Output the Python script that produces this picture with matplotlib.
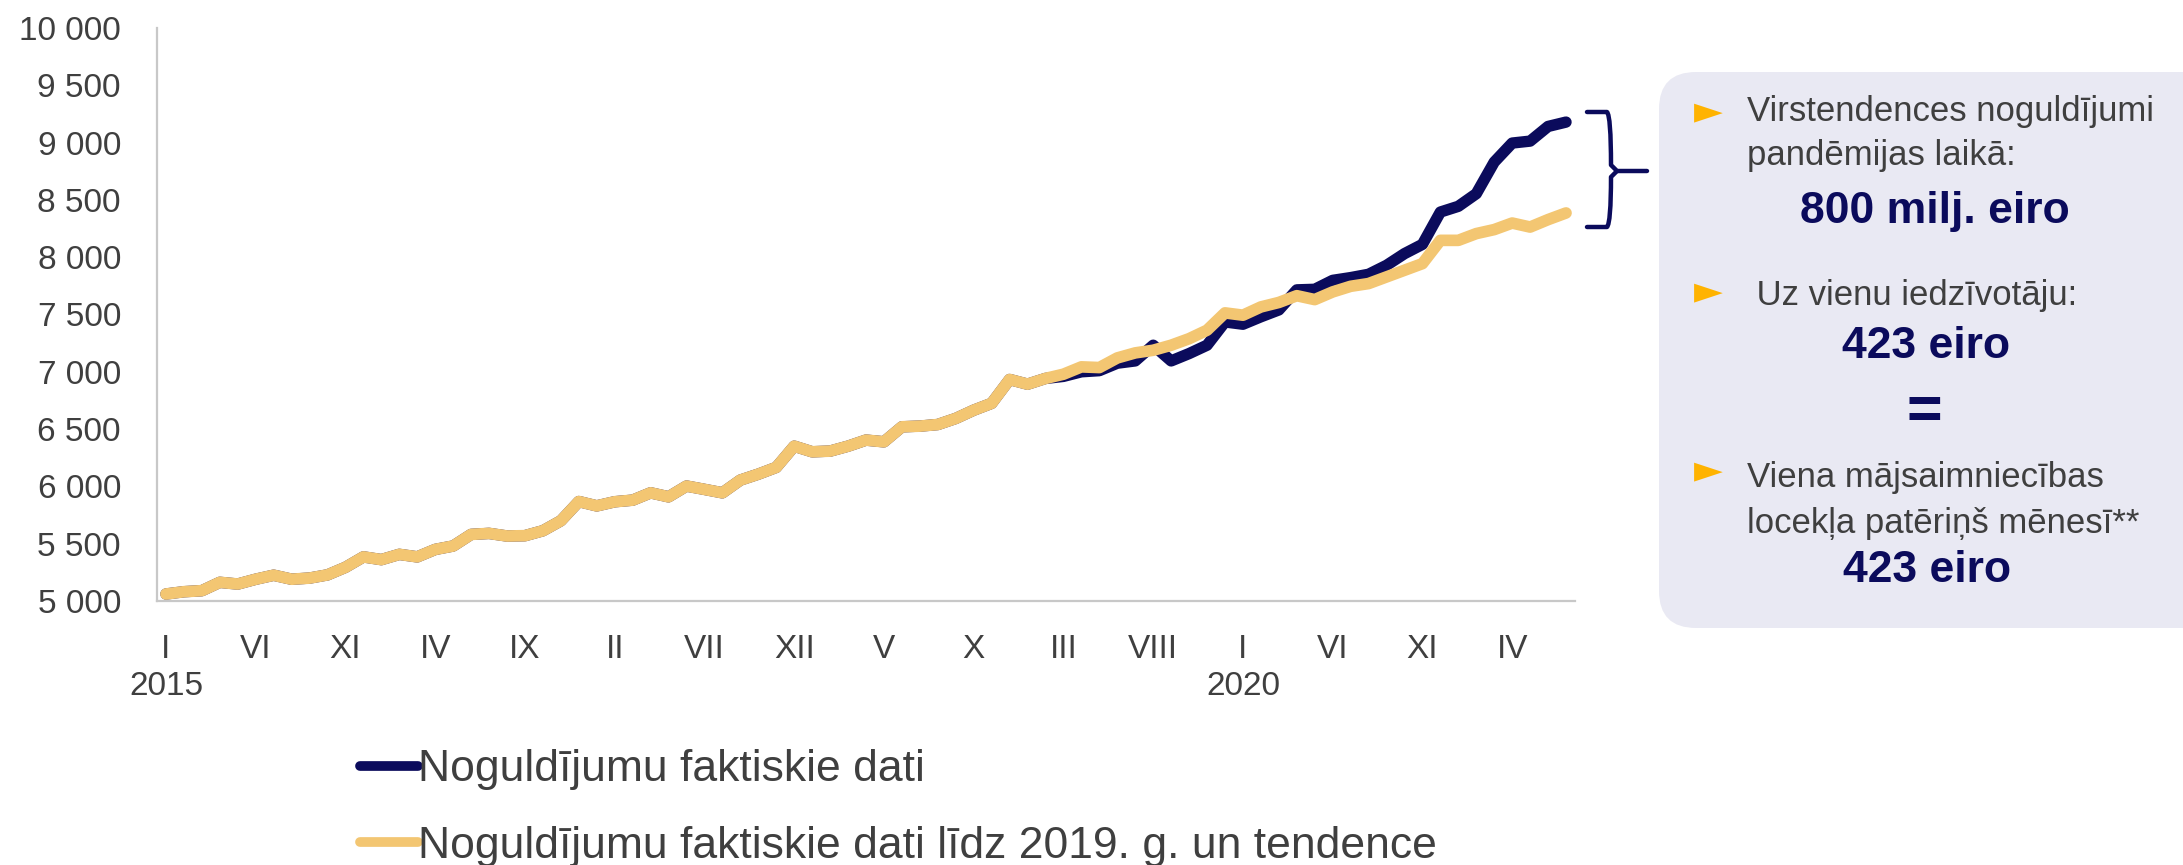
import matplotlib
matplotlib.use("Agg")
import matplotlib.pyplot as plt
from matplotlib.patches import FancyBboxPatch, PathPatch
from matplotlib.path import Path

# ---------------- data ----------------
# monthly deposits, Jan 2015 .. Jul 2021 (index 0..78)
trend_values = [
    5061, 5081, 5090, 5163, 5148, 5190, 5225, 5190, 5200, 5228,
    5294, 5385, 5361, 5407, 5385, 5450, 5480, 5581, 5590, 5567,
    5570, 5613, 5700, 5868, 5830, 5866, 5880, 5944, 5909, 6003,
    5974, 5944, 6055, 6107, 6166, 6351, 6302, 6308, 6351, 6404,
    6389, 6520, 6526, 6540, 6593, 6665, 6725, 6933, 6892, 6942,
    6979, 7043, 7037, 7121, 7165, 7188, 7232, 7289, 7363, 7514,
    7494, 7566, 7605, 7664, 7630, 7697, 7746, 7770, 7828, 7886,
    7944, 8147, 8147, 8206, 8241, 8298, 8263, 8328, 8386,
]
actual_values = [
    5061, 5081, 5090, 5163, 5148, 5190, 5225, 5190, 5200, 5228,
    5294, 5385, 5361, 5407, 5385, 5450, 5480, 5581, 5590, 5567,
    5570, 5613, 5700, 5868, 5830, 5866, 5880, 5944, 5909, 6003,
    5974, 5944, 6055, 6107, 6166, 6351, 6302, 6308, 6351, 6404,
    6389, 6520, 6526, 6540, 6593, 6665, 6725, 6933, 6892, 6942,
    6960, 7000, 7010, 7075, 7095, 7232, 7095, 7159, 7232, 7435,
    7415, 7480, 7540, 7715, 7720, 7798, 7822, 7851, 7929, 8031,
    8112, 8394, 8444, 8554, 8830, 8996, 9013, 9141, 9179,
]
month_tick_labels = ["I", "VI", "XI", "IV", "IX", "II", "VII", "XII",
                     "V", "X", "III", "VIII", "I", "VI", "XI", "IV"]
year_labels = ["2015", "2020"]
year_label_months = [0, 60]
y_ticks = [5000, 5500, 6000, 6500, 7000, 7500, 8000, 8500, 9000, 9500, 10000]

legend_labels = ["Noguldījumu faktiskie dati",
                 "Noguldījumu faktiskie dati līdz 2019. g. un tendence"]
box_lines = ["Virstendences noguldījumi", "pandēmijas laikā:",
             " Uz vienu iedzīvotāju:", "Viena mājsaimniecības",
             "locekļa patēriņš mēnesī**"]
box_values = ["800 milj. eiro", "423 eiro", "=", "423 eiro"]

# ---------------- style ----------------
NAVY = "#0b0b5c"
YELLOW = "#f3c672"
GREY_TXT = "#3f3f3f"
FONT = ["Liberation Sans", "DejaVu Sans"]
plt.rcParams["font.family"] = FONT

W, H = 2183, 865
fig = plt.figure(figsize=(W / 100, H / 100), dpi=100)
fig.patch.set_facecolor("white")


def fx(px):
    return px / W


def fy(py):
    return 1 - py / H


ax = fig.add_axes([fx(157), fy(601), fx(1575) - fx(157), fy(28) - fy(601)])
x = list(range(len(trend_values)))
l1, = ax.plot(x, actual_values, color=NAVY, lw=8.2, solid_capstyle="round",
              solid_joinstyle="round", zorder=2)
l2, = ax.plot(x, trend_values, color=YELLOW, lw=8.4, solid_capstyle="round",
              solid_joinstyle="round", zorder=3)

ax.set_xlim(-0.5, 78.5)
ax.set_ylim(5000, 10000)
ax.set_yticks(y_ticks)
ax.set_yticklabels([f"{v:,}".replace(",", " ") for v in y_ticks])
ax.set_xticks(list(range(0, 79, 5)))
ax.set_xticklabels(month_tick_labels)
ax.tick_params(axis="both", length=0, labelsize=24, labelcolor=GREY_TXT)
ax.tick_params(axis="x", pad=24)
ax.tick_params(axis="y", pad=26)
for s in ["top", "right"]:
    ax.spines[s].set_visible(False)
for s in ["left", "bottom"]:
    ax.spines[s].set_color("#c8c8c8")
    ax.spines[s].set_linewidth(1.6)

for lab, m in zip(year_labels, year_label_months):
    ax.text(m, -0.15, lab, transform=ax.get_xaxis_transform(), ha="center",
            va="center", fontsize=24, color=GREY_TXT)

# legend
leg = fig.legend([l1, l2], legend_labels, loc="upper left",
                 bbox_to_anchor=(fx(338), fy(727)), frameon=False,
                 fontsize=32, handlelength=1.3, handletextpad=0.0,
                 labelspacing=0.8, borderpad=0, labelcolor=GREY_TXT)
for h in leg.legend_handles:
    h.set_linewidth(7)

# info box (extends past right edge)
box = FancyBboxPatch((fx(1659), fy(628)), fx(600), fy(72) - fy(628),
                     boxstyle="round,pad=0,rounding_size=0.017",
                     mutation_aspect=W / H, transform=fig.transFigure,
                     facecolor="#e9e9f3", edgecolor="none", zorder=0)
fig.patches.append(box)

# brace
bx0, bx1, btip = 1587, 1611, 1647
by0, bmid, by1 = 112, 171, 227
verts_px = [(bx0, by0), (bx1 - 4, by0), (bx1, by0 + 4), (bx1, bmid - 6),
            (bx1 + 6, bmid), (btip, bmid)]
codes = [Path.MOVETO, Path.LINETO, Path.CURVE3, Path.CURVE3, Path.LINETO,
         Path.LINETO]
verts_px2 = [(bx0, by1), (bx1 - 4, by1), (bx1, by1 - 4), (bx1, bmid + 6),
             (bx1 + 6, bmid)]
codes2 = [Path.MOVETO, Path.LINETO, Path.CURVE3, Path.CURVE3, Path.LINETO]
for vv, cc in [(verts_px, codes), (verts_px2, codes2)]:
    p = Path([(fx(a), fy(b)) for a, b in vv], cc)
    fig.patches.append(PathPatch(p, transform=fig.transFigure, fill=False,
                                 edgecolor=NAVY, lw=3.2, capstyle="round",
                                 joinstyle="round"))

# box text
BODY = 25
BOLD = 32
bullet_x = 1708
for by in (112, 292, 471):
    fig.text(fx(bullet_x), fy(by), "►", fontsize=27, color="#ffb300",
             ha="center", va="center", family=["DejaVu Sans"])
fig.text(fx(1747), fy(112), box_lines[0], fontsize=BODY, color=GREY_TXT,
         va="center", ha="left")
fig.text(fx(1747), fy(156), box_lines[1], fontsize=BODY, color=GREY_TXT,
         va="center", ha="left")
fig.text(fx(1935), fy(211), box_values[0], fontsize=BOLD, color=NAVY,
         va="center", ha="center", weight="bold")
fig.text(fx(1747), fy(296), box_lines[2], fontsize=BODY, color=GREY_TXT,
         va="center", ha="left")
fig.text(fx(1926), fy(347), box_values[1], fontsize=BOLD, color=NAVY,
         va="center", ha="center", weight="bold")
fig.text(fx(1924), fy(414), box_values[2], fontsize=44, color=NAVY,
         va="center", ha="center", weight="bold")
fig.text(fx(1747), fy(477), box_lines[3], fontsize=BODY, color=GREY_TXT,
         va="center", ha="left")
fig.text(fx(1747), fy(524), box_lines[4], fontsize=BODY, color=GREY_TXT,
         va="center", ha="left")
fig.text(fx(1927), fy(571), box_values[3], fontsize=BOLD, color=NAVY,
         va="center", ha="center", weight="bold")

fig.savefig("out.png", dpi=100)
